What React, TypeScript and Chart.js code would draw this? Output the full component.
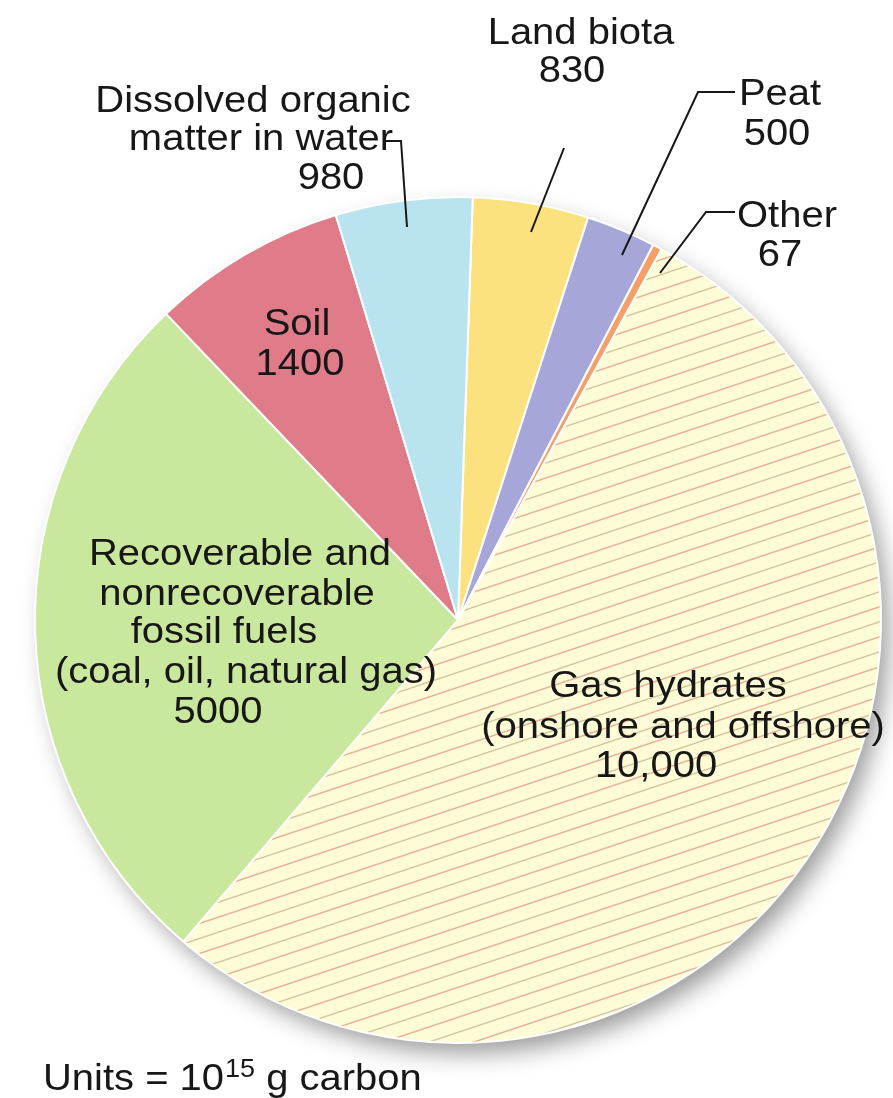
import React, { useEffect, useRef } from "react";
import { Chart, registerables } from "chart.js";

Chart.register(...registerables);

// ---- data ----
const categories = [
  "Land biota",
  "Peat",
  "Other",
  "Gas hydrates",
  "Fossil fuels",
  "Soil",
  "Dissolved organic matter in water",
];
const values = [830, 500, 67, 10000, 5000, 1400, 980];
const valueLabels = ["830", "500", "67", "10,000", "5000", "1400", "980"];
const labelNames = [
  ["Land biota"],
  ["Peat"],
  ["Other"],
  ["Gas hydrates", "(onshore and offshore)"],
  ["Recoverable and", "nonrecoverable", "fossil fuels", "(coal, oil, natural gas)"],
  ["Soil"],
  ["Dissolved organic", "matter in water"],
];
const sliceColors = ["#fbe27e", "#a7a6d8", "#f6a068", "HATCH", "#c9e79d", "#e07b89", "#b9e4ef"];

// ---- layout (positions of annotation text / leader lines) ----
const labelPositions: number[][][] = [
  [[581, 44], [572, 82]],
  [[780, 105], [777, 145]],
  [[787, 227], [780, 266]],
  [[668, 697], [683, 738], [656, 777]],
  [[240, 565], [237, 605], [224, 643], [246, 683], [218, 723]],
  [[297, 335], [300, 375]],
  [[253, 112], [261, 150], [331, 189]],
];
const leaderLines: (number[][] | null)[] = [
  [[564, 148], [531, 232]],
  [[735, 92], [698, 92], [622, 255]],
  [[735, 212], [706, 212], [660, 273]],
  null,
  null,
  null,
  [[384, 141], [401, 141], [407, 227]],
];

const FONT = '"Liberation Sans", Arial, Helvetica, sans-serif';
const TEXT_COLOR = "#171717";
const SCALE_X = 1.08;

function drawText(ctx: CanvasRenderingContext2D, text: string, x: number, y: number, size: number, align: CanvasTextAlign) {
  ctx.save();
  ctx.translate(x, y);
  ctx.scale(SCALE_X, 1);
  ctx.font = `${size}px ${FONT}`;
  ctx.textAlign = align;
  ctx.textBaseline = "alphabetic";
  ctx.fillStyle = TEXT_COLOR;
  ctx.fillText(text, 0, 0);
  ctx.restore();
}

function textWidth(ctx: CanvasRenderingContext2D, text: string, size: number) {
  ctx.save();
  ctx.font = `${size}px ${FONT}`;
  const w = ctx.measureText(text).width * SCALE_X;
  ctx.restore();
  return w;
}

function makeHatch(ctx: CanvasRenderingContext2D) {
  const tile = document.createElement("canvas");
  tile.width = 90;
  tile.height = 30;
  const t = tile.getContext("2d")!;
  t.fillStyle = "#fefbd7";
  t.fillRect(0, 0, 90, 30);
  t.lineWidth = 1.4;
  for (let k = -2; k <= 6; k++) {
    const c = k * 15;
    t.strokeStyle = ((k % 2) + 2) % 2 === 0 ? "#eaae95" : "#d3c69f";
    t.beginPath();
    t.moveTo(-10, c + 10 / 3);
    t.lineTo(100, c - 100 / 3);
    t.stroke();
  }
  return ctx.createPattern(tile, "repeat");
}

const shadowPlugin = {
  id: "pieShadow",
  beforeDatasetsDraw(chart: any) {
    const arc = chart.getDatasetMeta(0).data[0];
    if (!arc) return;
    const { x, y, outerRadius } = arc.getProps(["x", "y", "outerRadius"], true);
    const ctx: CanvasRenderingContext2D = chart.ctx;
    ctx.save();
    ctx.shadowColor = "rgba(0,0,0,0.4)";
    ctx.shadowBlur = 24;
    ctx.shadowOffsetX = 9;
    ctx.shadowOffsetY = 12;
    ctx.beginPath();
    ctx.arc(x, y, outerRadius - 2, 0, Math.PI * 2);
    ctx.fillStyle = "#ffffff";
    ctx.fill();
    ctx.restore();
  },
};

const labelPlugin = {
  id: "sliceLabels",
  afterDraw(chart: any) {
    const ctx: CanvasRenderingContext2D = chart.ctx;
    ctx.save();
    ctx.strokeStyle = TEXT_COLOR;
    ctx.lineWidth = 2;
    leaderLines.forEach((pts) => {
      if (!pts) return;
      ctx.beginPath();
      ctx.moveTo(pts[0][0], pts[0][1]);
      for (let i = 1; i < pts.length; i++) ctx.lineTo(pts[i][0], pts[i][1]);
      ctx.stroke();
    });
    categories.forEach((_, i) => {
      const lines = [...labelNames[i], valueLabels[i]];
      lines.forEach((txt, j) => {
        const p = labelPositions[i][j];
        drawText(ctx, txt, p[0], p[1], 37, "center");
      });
    });
    let x = 43;
    const base = 1090;
    const a = "Units = 10";
    drawText(ctx, a, x, base, 37, "left");
    x += textWidth(ctx, a, 37) + 1;
    drawText(ctx, "15", x, base - 13, 25, "left");
    x += textWidth(ctx, "15", 25);
    drawText(ctx, " g carbon", x, base, 37, "left");
    ctx.restore();
  },
};

export default function App() {
  const canvasRef = useRef<HTMLCanvasElement | null>(null);

  useEffect(() => {
    const canvas = canvasRef.current;
    if (!canvas) return;
    const ctx = canvas.getContext("2d")!;
    const hatch = makeHatch(ctx);
    const bg = sliceColors.map((c) => (c === "HATCH" ? hatch : c));
    const chart = new Chart(canvas, {
      type: "pie",
      data: {
        labels: categories,
        datasets: [
          {
            data: values,
            backgroundColor: bg as any,
            borderColor: "#ffffff",
            borderWidth: 2,
          },
        ],
      },
      options: {
        responsive: false,
        animation: false,
        devicePixelRatio: 1,
        rotation: 2,
        layout: { padding: { left: 34, right: 11, top: 196, bottom: 54 } },
        plugins: {
          legend: { display: false },
          tooltip: { enabled: false },
        },
      },
      plugins: [shadowPlugin, labelPlugin],
    });
    return () => chart.destroy();
  }, []);

  return (
    <div style={{ position: "absolute", left: 0, top: 0, width: 893, height: 1098, background: "#fff" }}>
      <canvas ref={canvasRef} width={893} height={1098} style={{ display: "block" }} />
    </div>
  );
}
